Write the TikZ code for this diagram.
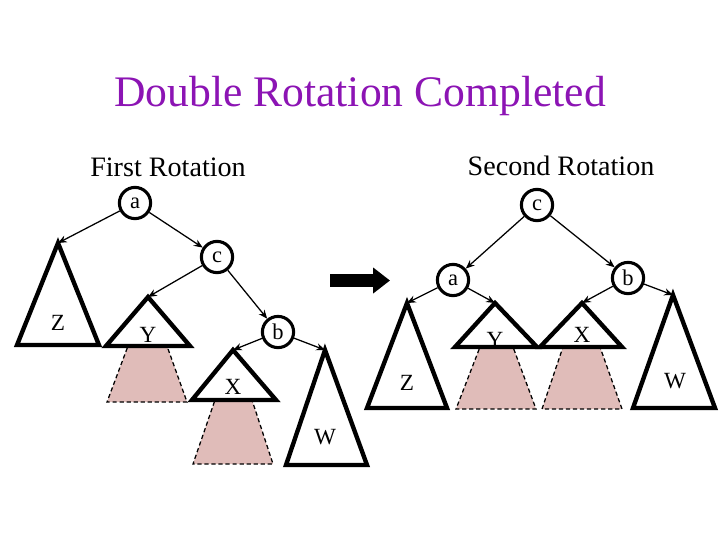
\documentclass[tikz,border=0pt]{standalone}
\usepackage{fontspec}
\setmainfont{Liberation Serif}
\usepackage{tikz}
\usetikzlibrary{arrows.meta,positioning,calc}
\usepackage{xcolor}
\definecolor{ttl}{RGB}{140,20,180}
\definecolor{ink}{RGB}{0,0,0}
\definecolor{pinkfill}{RGB}{224,188,185}
\tikzset{
  knot/.style={draw=ink,circle,line width=2.2pt,fill=white,minimum size=7.8mm,
    inner sep=0pt,font=\fontsize{16}{16}\selectfont},
  subtree/.style={draw=ink,line width=3.1pt,fill=white,line join=miter},
  newpart/.style={draw=ink,line width=0.9pt,fill=pinkfill,
    dash pattern=on 3pt off 2pt},
  lbl/.style={font=\fontsize{16.5}{16.5}\selectfont,inner sep=0pt},
  arr/.style={-{Stealth[length=2.2mm,width=1.8mm]},line width=0.9pt},
  big/.style={line width=9pt,-{Triangle[length=4.2mm,width=6.2mm]}},
}

\begin{document}
\begin{tikzpicture}[x=0.025cm,y=-0.025cm]
  \useasboundingbox (0,0) rectangle (720,540);

  \node[text=ttl,font=\fontsize{31}{31}\selectfont] (title) at (360,96)
    {Double Rotation Completed};
  \node[font=\fontsize{20}{20}\selectfont] (first) at (168,167) {First Rotation};
  \node[font=\fontsize{20}{20}\selectfont] (second) at (561,166) {Second Rotation};

  % first rotation
  \coordinate (zA) at (58,243);
  \coordinate (yA) at (148,297);
  \coordinate (xA) at (233,350);
  \coordinate (wA) at (325,350);
  \path[newpart] (128,346) -- (167,346) -- (187,402) -- (107,402) -- cycle;
  \path[newpart] (215,400) -- (252,400) -- (273,464) -- (193,464) -- cycle;
  \draw[subtree] (zA) -- (99,345) -- (17,345) -- cycle;
  \draw[subtree] (yA) -- (190,346) -- (106,346) -- cycle;
  \draw[subtree] (xA) -- (276,400) -- (192,400) -- cycle;
  \draw[subtree] (wA) -- (367,465) -- (286,465) -- cycle;
  \node[lbl] (zl) at (58,323) {Z};
  \node[lbl] (yl) at (148,335) {Y};
  \node[lbl] (xl) at (233,387) {X};
  \node[lbl] (wl) at (325,437) {W};

  \node[knot] (a) at (135,203) {a};
  \node[knot] (c) at (217,257) {c};
  \node[knot] (b) at (278,332) {b};
  \draw[arr] (a) -- (zA);
  \draw[arr] (a) -- (c);
  \draw[arr] (c) -- (yA);
  \draw[arr] (c) -- (b);
  \draw[arr] (b) -- (xA);
  \draw[arr] (b) -- (wA);

  % arrow between
  \coordinate (go) at (330,280.5);
  \coordinate (to) at (390,280.5);
  \draw[big] (go) -- (to);

  % second rotation
  \coordinate (z2) at (407,303);
  \coordinate (y2) at (495,303);
  \coordinate (x2) at (582,303);
  \coordinate (w2) at (673,295);
  \path[newpart] (480,347) -- (513,347) -- (536,409) -- (456,409) -- cycle;
  \path[newpart] (563,347) -- (600,347) -- (622,409) -- (542,409) -- cycle;
  \draw[subtree] (z2) -- (447,408) -- (367,408) -- cycle;
  \draw[subtree] (y2) -- (537,347) -- (455,347) -- cycle;
  \draw[subtree] (x2) -- (622,347) -- (540,347) -- cycle;
  \draw[subtree] (w2) -- (715,408) -- (633,408) -- cycle;
  \node[lbl] (z2l) at (407,383) {Z};
  \node[lbl] (y2l) at (495,340) {Y};
  \node[lbl] (x2l) at (582,335) {X};
  \node[lbl] (w2l) at (675,381) {W};

  \node[knot] (c2) at (537,205) {c};
  \node[knot] (a2) at (453,280) {a};
  \node[knot] (b2) at (628,278) {b};
  \draw[arr] (c2) -- (a2);
  \draw[arr] (c2) -- (b2);
  \draw[arr] (a2) -- (z2);
  \draw[arr] (a2) -- (y2);
  \draw[arr] (b2) -- (x2);
  \draw[arr] (b2) -- (w2);
\end{tikzpicture}
\end{document}
